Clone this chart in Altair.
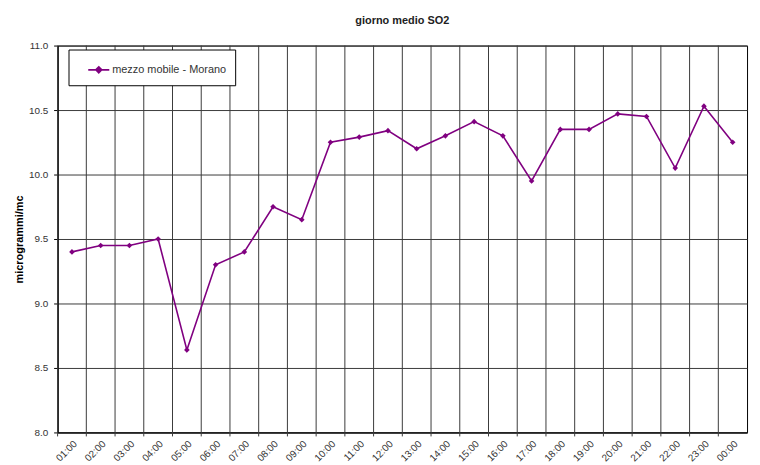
import altair as alt
import pandas as pd

hours = ["01:00", "02:00", "03:00", "04:00", "05:00", "06:00", "07:00", "08:00",
         "09:00", "10:00", "11:00", "12:00", "13:00", "14:00", "15:00", "16:00",
         "17:00", "18:00", "19:00", "20:00", "21:00", "22:00", "23:00", "00:00"]
values = [9.40, 9.45, 9.45, 9.50, 8.64, 9.30, 9.40, 9.75,
          9.65, 10.25, 10.29, 10.34, 10.20, 10.30, 10.41, 10.30,
          9.95, 10.35, 10.35, 10.47, 10.45, 10.05, 10.53, 10.25]
series_name = "mezzo mobile - Morano"
y_ticks = [8.0, 8.5, 9.0, 9.5, 10.0, 10.5, 11.0]

W, H = 695, 390
FONT = "Liberation Sans"
PURPLE = "#800080"

df = pd.DataFrame({"ora": hours, "valore": values, "serie": series_name})
grid_df = pd.DataFrame({"ora": hours})

xscale = alt.Scale(domain=hours, paddingInner=0, paddingOuter=0)

grid = alt.Chart(grid_df).mark_rule(color="#3a3a3a", strokeWidth=1).encode(
    x=alt.X("ora:O", sort=hours, scale=xscale, bandPosition=0,
            axis=alt.Axis(title=None, labelAngle=-45, labelFontSize=10, labelFont=FONT,
                          labelColor="#333", ticks=False, domain=True, domainColor="#000",
                          grid=False, labelPadding=6, bandPosition=0.5)),
    y=alt.value(0),
    y2=alt.value(H + 4),
)

line = alt.Chart(df).mark_line(
    strokeWidth=1.6,
    point=alt.OverlayMarkDef(shape="diamond", size=32, filled=True, color=PURPLE),
).encode(
    x=alt.X("ora:O", sort=hours, scale=xscale),
    y=alt.Y("valore:Q", scale=alt.Scale(domain=[8, 11], nice=False, zero=False),
            axis=alt.Axis(title="microgrammi/mc", values=y_ticks, format=".1f",
                          titleFont=FONT, titleFontSize=11, titleFontWeight="bold",
                          titleColor="#000", titlePadding=4,
                          labelFont=FONT, labelFontSize=10, labelColor="#333",
                          labelPadding=6,
                          grid=True, gridColor="#3a3a3a", gridWidth=1, gridOpacity=1,
                          domainColor="#000", tickColor="#000", tickSize=4)),
    color=alt.Color("serie:N", scale=alt.Scale(range=[PURPLE]),
                    legend=alt.Legend(title=None, orient="none", legendX=11, legendY=4,
                                      fillColor="white", strokeColor="#000",
                                      padding=9, labelFont=FONT, labelFontSize=11,
                                      labelColor="#333",
                                      symbolType="M-1,0L1,0M0,-0.28L0.28,0L0,0.28L-0.28,0Z",
                                      symbolSize=450, symbolStrokeWidth=1.6,
                                      symbolFillColor=PURPLE, labelOffset=2,
                                      symbolOffset=10)),
)

chart = alt.layer(grid, line).properties(
    width=W, height=H,
    title=alt.Title("giorno medio SO2", font=FONT, fontSize=11, fontWeight="bold",
                    color="#222", offset=15),
    background="white",
).configure_view(stroke="#000", strokeWidth=1)

chart.save("out.html", embed_options={"renderer": "svg", "actions": False})
